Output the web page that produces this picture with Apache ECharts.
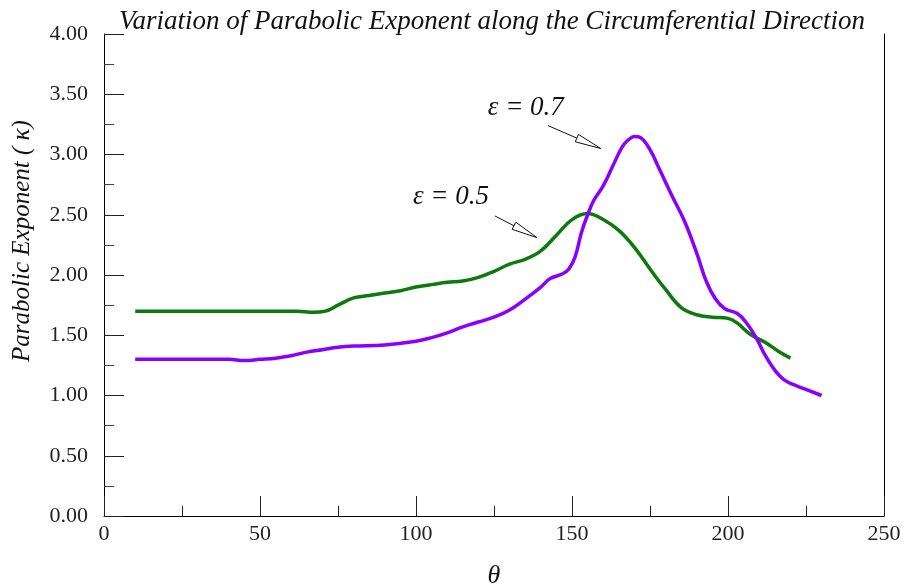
<!DOCTYPE html>
<html><head><meta charset="utf-8">
<script src="https://cdn.jsdelivr.net/npm/echarts@6/dist/echarts.min.js"></script>
<style>html,body{margin:0;padding:0;background:#fff}#c{width:905px;height:586px}</style>
</head><body><div id="c"></div>
<script>
const titleText = 'Variation of Parabolic Exponent along the Circumferential Direction';
const xName = 'θ';
const yName = 'Parabolic Exponent ( κ)';
const yTicks = [0, 0.5, 1, 1.5, 2, 2.5, 3, 3.5, 4];

const thetaE05 = [10,20,30,40,50,58,62,67,71,75,80,85,90,95,100,105,110,115,120,125,130,135,140,145,150,155,160,165,170,175,180,185,190,195,200,203,207,212,216,220];
const kappaE05 = [1.70,1.70,1.70,1.70,1.70,1.70,1.70,1.69,1.70,1.75,1.81,1.83,1.85,1.87,1.90,1.92,1.94,1.95,1.98,2.03,2.09,2.13,2.20,2.33,2.46,2.51,2.46,2.37,2.23,2.05,1.88,1.73,1.67,1.65,1.64,1.60,1.51,1.44,1.37,1.31];

const thetaE07 = [10,20,30,40,45,50,55,60,65,70,75,80,90,100,105,110,115,120,125,130,135,140,143,147,149,151,153,155,157,160,163,166,168,170,172,175,178,182,186,190,193,196,199,203,206,209,212,215,218,222,226,230];
const kappaE07 = [1.30,1.30,1.30,1.30,1.29,1.30,1.31,1.33,1.36,1.38,1.40,1.41,1.42,1.45,1.48,1.52,1.57,1.61,1.65,1.71,1.80,1.90,1.97,2.01,2.05,2.15,2.35,2.50,2.62,2.74,2.90,3.06,3.12,3.15,3.14,3.04,2.88,2.66,2.45,2.18,1.95,1.80,1.72,1.68,1.60,1.48,1.33,1.21,1.13,1.08,1.04,1.00];

// annotation anchors (data coords)
const labels = [
  {text:'ε = 0.7', at:[123.0,3.39], from:[142.3,3.24], to:[159.2,3.05]},
  {text:'ε = 0.5', at:[99.0,2.65], from:[125.3,2.49], to:[138.8,2.31]}
];

const serif = '"Liberation Serif","DejaVu Serif",serif';
const chart = echarts.init(document.getElementById('c'), null, {renderer:'canvas'});
const pairs = (xs, ys) => xs.map((x,i)=>[x, ys[i]]);

const axisLabelStyle = {color:'#222', fontFamily:serif, fontSize:22};
chart.setOption({
  animation:false,
  backgroundColor:'#fff',
  title:{text:titleText, left:487, top:3, textAlign:'center',
    textStyle:{fontFamily:serif, fontStyle:'italic', fontWeight:'normal', fontSize:27, color:'#111'}},
  grid:{left:104, right:21, top:34, bottom:70, containLabel:false, outerBoundsMode:'none'},
  xAxis:{type:'value', min:0, max:250, interval:50,
    name:xName, nameLocation:'middle', nameGap:47,
    nameTextStyle:{fontFamily:serif, fontStyle:'italic', fontSize:26, color:'#111'},
    axisLine:{show:true, lineStyle:{color:'#000', width:1}},
    axisTick:{show:true, inside:true, length:20, lineStyle:{color:'#222'}},
    minorTick:{show:true, splitNumber:2, length:10, lineStyle:{color:'#222'}},
    splitLine:{show:false},
    axisLabel:Object.assign({margin:7}, axisLabelStyle)},
  yAxis:[{type:'value', min:0, max:4, interval:0.5,
    axisLine:{show:true, lineStyle:{color:'#000', width:1}},
    axisTick:{show:true, inside:true, length:20, lineStyle:{color:'#222'}},
    minorTick:{show:true, splitNumber:2, length:10, lineStyle:{color:'#444'}},
    splitLine:{show:false},
    axisLabel:Object.assign({margin:16, formatter:v=>v.toFixed(2)}, axisLabelStyle)},
   {type:'value', min:0, max:4, position:'right',
    axisLine:{show:true, onZero:false, lineStyle:{color:'#000', width:1}},
    axisTick:{show:false}, axisLabel:{show:false}, splitLine:{show:false}}],
  series:[
    {type:'line', name:'ε = 0.5', data:pairs(thetaE05,kappaE05), smooth:0.4, showSymbol:false,
     lineStyle:{color:'#0c7a0c', width:3.5}},
    {type:'line', name:'ε = 0.7', data:pairs(thetaE07,kappaE07), smooth:0.4, showSymbol:false,
     lineStyle:{color:'#8a00ff', width:3.5}}
  ]
});

function drawAnnotations(){
  const g = [];
  g.push({type:'text', x:22, y:241, rotation:Math.PI/2,
    style:{text:yName, fontFamily:serif, fontStyle:'italic', fontSize:25, fill:'#111', align:'center', verticalAlign:'middle'}});
  labels.forEach(l=>{
    const p = chart.convertToPixel({gridIndex:0}, l.at);
    const a = chart.convertToPixel({gridIndex:0}, l.from);
    const b = chart.convertToPixel({gridIndex:0}, l.to);
    g.push({type:'text', x:p[0], y:p[1], style:{text:l.text, fontFamily:serif, fontStyle:'italic', fontSize:27, fill:'#111', verticalAlign:'middle', align:'left'}});
    const dx=b[0]-a[0], dy=b[1]-a[1], L=Math.hypot(dx,dy), ux=dx/L, uy=dy/L;
    const hl=26, hw=4;
    const bx=b[0]-ux*hl, by=b[1]-uy*hl;
    g.push({type:'line', shape:{x1:a[0], y1:a[1], x2:bx, y2:by}, style:{stroke:'#111', lineWidth:1}});
    g.push({type:'polygon', shape:{points:[[b[0],b[1]],[bx-uy*hw, by+ux*hw],[bx+uy*hw, by-ux*hw]]}, style:{fill:'#fff', stroke:'#111', lineWidth:1}});
  });
  chart.setOption({graphic:g});
}
drawAnnotations();
</script></body></html>
